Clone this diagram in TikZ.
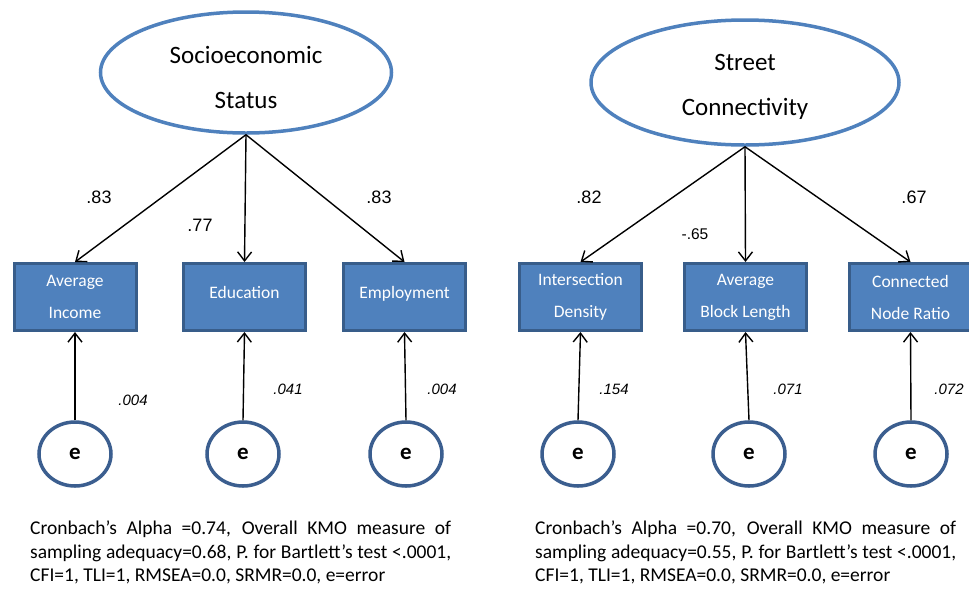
\documentclass[tikz,border=0pt]{standalone}
\usepackage{fontspec}
\setmainfont{Carlito}
\newfontfamily\zahlfont{Liberation Sans}
\usetikzlibrary{shapes.geometric,arrows.meta}

\definecolor{boxblau}{HTML}{4F81BD}
\definecolor{randblau}{HTML}{385D8A}
\definecolor{fehlerblau}{HTML}{3B5E8F}

\newcommand{\zeile}[1]{\makebox[421pt][s]{#1}}

\tikzset{
    latent/.style={ellipse, draw=boxblau, line width=3.5pt, fill=white,
        align=center, inner sep=0pt, font=\fontsize{25}{45}\selectfont},
    indikator/.style={rectangle, draw=randblau, fill=boxblau, line width=3pt,
        minimum width=122pt, minimum height=67pt, inner sep=0pt,
        align=center, text=white, font=\fontsize{17.5}{32}\selectfont},
    fehler/.style={ellipse, draw=fehlerblau, line width=3.5pt, fill=white,
        minimum width=72pt, minimum height=64pt, inner sep=0pt,
        font=\fontsize{23}{23}\selectfont\bfseries},
    pfeil/.style={-{Straight Barb[length=9pt,width=14pt]}, line width=1.4pt},
    ladung/.style={font=\zahlfont\fontsize{18}{18}\selectfont},
    varianz/.style={font=\zahlfont\itshape\fontsize{15}{15}\selectfont},
    fussnote/.style={anchor=north west, align=left,
        inner sep=0pt, font=\fontsize{19.5}{23.5}\selectfont}
}

\begin{document}
\begin{tikzpicture}[x=1pt, y=-1pt]
    \useasboundingbox (0,0) rectangle (969,590);

    % Latente Variablen
    \node[latent, minimum width=291pt, minimum height=121pt] (ses) at (246,72.5)
        {\rule{0pt}{28pt}Socioeconomic\\Status};
    \node[latent, minimum width=308pt, minimum height=125pt] (street) at (745,82.5)
        {\rule{0pt}{26pt}Street\\Connectivity};

    % Indikatoren
    \node[indikator] (inc) at (75,297) {Average\\Income};
    \node[indikator] (edu) at (244.5,297) {\rule[-9pt]{0pt}{9pt}Education};
    \node[indikator] (emp) at (404.5,297) {\rule[-9pt]{0pt}{9pt}Employment};
    \node[indikator] (dens) at (580.5,297) {Intersection\\Density};
    \node[indikator] (block) at (745.5,297) {Average\\Block Length};
    \node[indikator] (ratio) at (910.5,297) {Connected\\Node Ratio};

    % Fehlerterme und Pfade
    \foreach \ind/\x/\name in {inc/75/e1, edu/243/e2, emp/406/e3,
                              dens/578/e4, block/749/e5, ratio/911/e6} {
        \node[fehler] (\name) at (\x,454) {e};
        \draw[pfeil] (\name.north) -- (\ind.south);
    }

    \foreach \ind in {inc, edu, emp}
        \draw[pfeil] (ses.south) -- (\ind.north);
    \foreach \ind in {dens, block, ratio}
        \draw[pfeil] (street.south) -- (\ind.north);

    % Ladungen
    \node[ladung] (l1) at (99,197) {.83};
    \node[ladung] (l2) at (200,225) {.77};
    \node[ladung] (l3) at (379,197) {.83};
    \node[ladung] (l4) at (589,197) {.82};
    \node[ladung, font=\zahlfont\fontsize{15.5}{15.5}\selectfont] (l5) at (695,234) {-.65};
    \node[ladung] (l6) at (914,197) {.67};

    % Fehlervarianzen
    \node[varianz] (v1) at (133,400) {.004};
    \node[varianz] (v2) at (288,389) {.041};
    \node[varianz] (v3) at (442,389) {.004};
    \node[varianz] (v4) at (614,389) {.154};
    \node[varianz] (v5) at (788,389) {.071};
    \node[varianz] (v6) at (949,389) {.072};

    % Beschriftung unten
    \node[fussnote] (txtl) at (30,521) {\zeile{Cronbach’s Alpha =0.74, Overall KMO measure of}\\
        \zeile{sampling adequacy=0.68, P. for Bartlett’s test <.0001,}\\
        CFI=1, TLI=1, RMSEA=0.0, SRMR=0.0, e=error};
    \node[fussnote] (txtr) at (535,521) {\zeile{Cronbach’s Alpha =0.70, Overall KMO measure of}\\
        \zeile{sampling adequacy=0.55, P. for Bartlett’s test <.0001,}\\
        CFI=1, TLI=1, RMSEA=0.0, SRMR=0.0, e=error};
\end{tikzpicture}
\end{document}
